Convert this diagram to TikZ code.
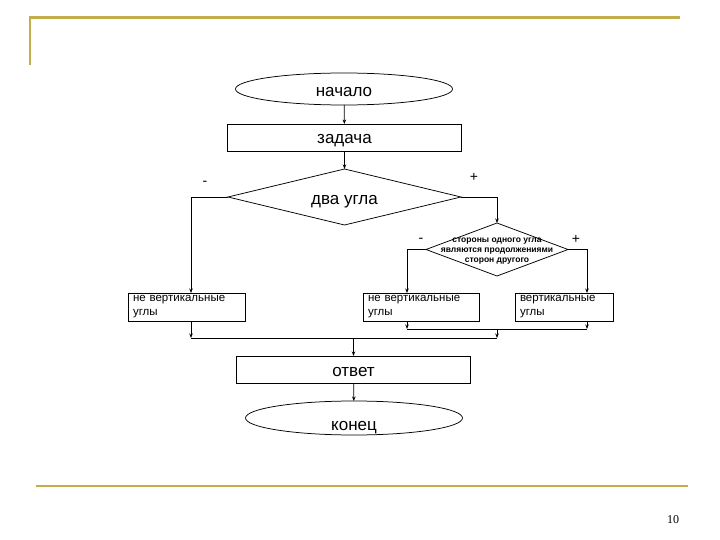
\documentclass[tikz,border=0pt]{standalone}
\usepackage{fontspec}
\setmainfont{Liberation Sans}
\newfontfamily\pagenumfont{Liberation Serif}
\usepackage{xcolor}
\usepackage{tikz}
\usetikzlibrary{arrows.meta,positioning,shapes.geometric,calc}
\definecolor{framegold}{RGB}{196,174,76}
\newcommand\flowbig{\fontsize{17}{20}\selectfont}
\newcommand\flowsmall{\fontsize{11.5}{14}\selectfont}

\begin{document}
\begin{tikzpicture}[x=1pt, y=-1pt, line width=0.75pt,
  term/.style={draw, ellipse, minimum width=217pt, minimum height=32pt, inner sep=0pt, text height=16pt, text depth=0pt, font=\flowbig},
  proc/.style={draw, minimum width=234pt, minimum height=27pt, inner sep=0pt, text height=13pt, text depth=0pt, font=\flowbig},
  cond/.style={draw, diamond, inner sep=0pt},
  res/.style ={draw, minimum height=28pt, inner xsep=5pt, inner ysep=0pt, align=left, font=\flowsmall},
  sign/.style={font=\fontsize{14}{14}\selectfont},
  arr/.style={-{Stealth[length=4.5pt,width=3.5pt]}},
  every node/.style={outer sep=0pt}
]
  \useasboundingbox (0,0) rectangle (720,540);

  % Slide frame
  \draw[framegold, line width=2.8pt] (30,65) -- (30,17.5) -- (680,17.5);
  \draw[framegold, line width=2.8pt] (36,486) -- (688,486);
  \node[font=\pagenumfont\fontsize{12}{12}\selectfont] (pnum) at (673,520) {10};

  % Main column
  \node[term] (start) at (344,89) {начало};
  \node[proc] (task) at (344.5,137.5) {задача};
  \node[cond, minimum width=233pt, minimum height=56pt, shape aspect=4, text height=16pt, text depth=0pt, font=\flowbig] (angles) at (344.5,197) {два угла};
  \node[cond, minimum width=142pt, minimum height=53pt,
        label={[font=\fontsize{8.5}{10}\bfseries\selectfont, align=center, yshift=-2pt]center:стороны одного угла\\являются продолжениями\\сторон другого}] (sides) at (497,249.5) {};

  % Results
  \node[res, text width=107pt] (nv1) at (186.5,307) {не вертикальные\\углы};
  \node[res, text width=106pt] (nv2) at (421,307) {не вертикальные\\углы};
  \node[res, text width=88pt] (vert) at (564,307) {вертикальные\\углы};

  \node[proc] (answer) at (353.5,369.5) {ответ};
  \node[term, minimum height=34pt, label={[font=\flowbig, yshift=-10pt]center:конец}] (stop) at (354,418) {};

  % Signs
  \node[sign] (s1m) at (205,183) {-};
  \node[sign] (s1p) at (474,177) {+};
  \node[sign] (s2m) at (421,240) {-};
  \node[sign] (s2p) at (576,239) {+};

  % Junctions
  \coordinate (j1) at (407,329);
  \coordinate (j2) at (587,329);
  \coordinate (j3) at (497,329);
  \coordinate (k1) at (191,338);
  \coordinate (k2) at (497,338);
  \coordinate (k3) at (353.5,338);

  % Connectors
  \draw[arr] (start) -- (task);
  \draw[arr] (task) -- (angles);
  \draw[arr] (angles.west) -| ([xshift=4.5pt]nv1.north);
  \draw[arr] (angles.east) -| (sides.north);
  \draw[arr] (sides.west) -| ([xshift=-14pt]nv2.north);
  \draw[arr] (sides.east) -| ([xshift=23pt]vert.north);
  \draw[arr] ([xshift=-14pt]nv2.south) -- (j1);
  \draw[arr] ([xshift=23pt]vert.south) -- (j2);
  \draw (j1) -- (j2);
  \draw[arr] (j3) -- (k2);
  \draw[arr] ([xshift=4.5pt]nv1.south) -- (k1);
  \draw (k1) -- (k2);
  \draw[arr] (k3) -- (answer);
  \draw[arr] (answer) -- (stop);
\end{tikzpicture}
\end{document}
